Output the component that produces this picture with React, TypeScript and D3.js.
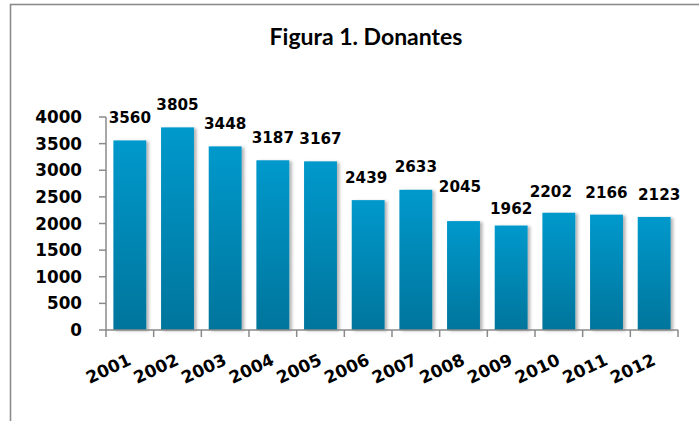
import React from 'react';
import * as d3 from 'd3';

const years = ['2001', '2002', '2003', '2004', '2005', '2006', '2007', '2008', '2009', '2010', '2011', '2012'];
const donors = [3560, 3805, 3448, 3187, 3167, 2439, 2633, 2045, 1962, 2202, 2166, 2123];
const yTicks = [0, 500, 1000, 1500, 2000, 2500, 3000, 3500, 4000];
const title = 'Figura 1. Donantes';
// manual nudges of the data labels (dx, dy in px), as placed in the original
const labelNudge: [number, number][] = [
  [0, 0], [0, 0], [0, 0], [0, 0], [0, 0], [-2, 0],
  [0, 0], [-3.5, -11.5], [0, 6], [-8, 1.5], [0, 0.5], [5, 0],
];

const W = 699;
const H = 421;
const FONT = 'Lato, "Open Sans", sans-serif';
const NUMFONT = '"DejaVu Sans", Verdana, sans-serif';

export default function App() {
  const x = d3.scaleBand<string>().domain(years).range([106, 678]).paddingInner(0.31).paddingOuter(0.155);
  const y = d3.scaleLinear().domain([0, 4000]).range([330, 117]);
  const step = x.step();
  const x0 = 106;
  const bounds = d3.range(years.length + 1).map((i) => x0 + i * step);
  const axisColor = '#8a8a8a';

  return (
    <svg width={W} height={H} style={{ position: 'absolute', left: 0, top: 0, background: '#fff' }}>
      <defs>
        <linearGradient id="barGrad" x1="0" y1="0" x2="0" y2="1">
          <stop offset="0" stopColor="#0099cc" />
          <stop offset="1" stopColor="#00759c" />
        </linearGradient>
        <filter id="shadow" x="-20%" y="-10%" width="150%" height="120%">
          <feDropShadow dx="2.5" dy="1" stdDeviation="1.6" floodColor="#000" floodOpacity="0.3" />
        </filter>
      </defs>
      <rect x={10.5} y={4.5} width={700} height={430} fill="#fff" stroke="#8c8c8c" strokeWidth={1.6} />
      <text x={366} y={45} textAnchor="middle" fontFamily={FONT} fontWeight="bold" fontSize={23} fill="#000">
        {title}
      </text>

      {/* bars */}
      {donors.map((v, i) => (
        <rect
          key={years[i]}
          x={x(years[i])}
          y={y(v)}
          width={x.bandwidth()}
          height={y(0) - y(v)}
          fill="url(#barGrad)"
          filter="url(#shadow)"
        />
      ))}

      {/* y axis */}
      <line x1={106} x2={106} y1={y(4000)} y2={y(0)} stroke={axisColor} strokeWidth={1.5} />
      {yTicks.map((t) => (
        <g key={t}>
          <line x1={99} x2={106} y1={y(t)} y2={y(t)} stroke={axisColor} strokeWidth={1.5} />
          <text
            x={82}
            y={y(t) + 6.1}
            textAnchor="end"
            fontFamily={NUMFONT}
            fontWeight="bold"
            fontSize={16.8}
            fill="#000"
          >
            {t}
          </text>
        </g>
      ))}

      {/* x axis */}
      <line x1={106} x2={678} y1={y(0)} y2={y(0)} stroke={axisColor} strokeWidth={1.5} />
      {bounds.map((b, i) => (
        <line key={i} x1={b} x2={b} y1={y(0)} y2={y(0) + 7} stroke={axisColor} strokeWidth={1.5} />
      ))}
      {years.map((yr) => {
        const cx = (x(yr) as number) + x.bandwidth() / 2;
        const ax = cx + 2.5;
        const ay = y(0) + 34;
        return (
          <text
            key={yr}
            x={ax}
            y={ay}
            transform={`rotate(-25, ${ax}, ${ay})`}
            textAnchor="end"
            fontFamily={NUMFONT}
            fontWeight="bold"
            fontSize={17}
            fill="#000"
          >
            {yr}
          </text>
        );
      })}

      {/* data labels */}
      {donors.map((v, i) => {
        const cx = (x(years[i]) as number) + x.bandwidth() / 2;
        return (
          <text
            key={'l' + years[i]}
            x={cx + labelNudge[i][0]}
            y={y(v) - 17.3 + labelNudge[i][1]}
            textAnchor="middle"
            fontFamily={NUMFONT}
            fontWeight="bold"
            fontSize={15.2}
            fill="#000"
          >
            {v}
          </text>
        );
      })}
    </svg>
  );
}
